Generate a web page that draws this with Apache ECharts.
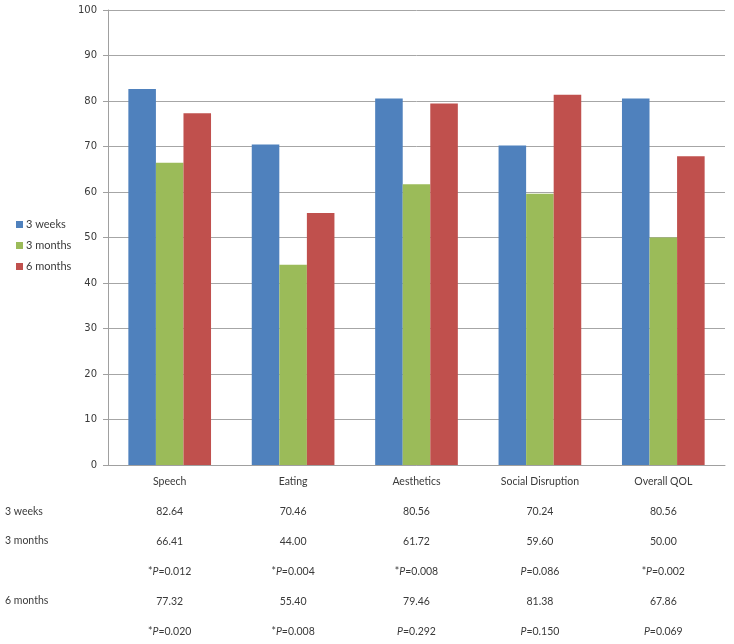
<!DOCTYPE html>
<html>
<head>
<meta charset="utf-8">
<script src="https://cdn.jsdelivr.net/npm/echarts@6/dist/echarts.min.js"></script>
<style>html,body{margin:0;padding:0;background:#fff;}#c{width:734px;height:644px;}</style>
</head>
<body>
<div id="c"></div>
<script>
var categories = ['Speech', 'Eating', 'Aesthetics', 'Social Disruption', 'Overall QOL'];
var seriesNames = ['3 weeks', '3 months', '6 months'];
var weeks3 = [82.64, 70.46, 80.56, 70.24, 80.56];
var months3 = [66.41, 44.00, 61.72, 59.60, 50.00];
var months6 = [77.32, 55.40, 79.46, 81.38, 67.86];
var p3months = ['*|0.012', '*|0.004', '*|0.008', '|0.086', '*|0.002'];
var p6months = ['*|0.020', '*|0.008', '|0.292', '|0.150', '|0.069'];
var yTicks = [0, 10, 20, 30, 40, 50, 60, 70, 80, 90, 100];
var colors = ['#4F81BD', '#9BBB59', '#C0504D'];

var FONT = 'Lato';
var TXT = '#3a3a3a';

function pText(s) {
  var parts = s.split('|');
  return '{t|' + parts[0] + '}{pi|P}{t|=' + parts[1] + '}';
}

var chart = echarts.init(document.getElementById('c'), null, {renderer: 'canvas'});
var option = {
  backgroundColor: '#ffffff',
  animation: false,
  color: colors,
  grid: {left: 108, right: 9, top: 10, bottom: 179, containLabel: false},
  legend: {
    orient: 'vertical',
    left: 11,
    top: 214,
    itemWidth: 7,
    itemHeight: 7,
    itemGap: 10,
    icon: 'rect',
    data: seriesNames,
    textStyle: {fontFamily: FONT, fontSize: 11, color: TXT, padding: [0, 0, 0, -2]}
  },
  xAxis: {
    type: 'category',
    data: categories,
    axisLine: {show: true, lineStyle: {color: '#a0a0a0', width: 1}},
    axisTick: {show: false},
    axisLabel: {
      margin: 2,
      interval: 0,
      color: TXT,
      fontFamily: FONT,
      fontSize: 10.5,
      formatter: function (val, idx) {
        return [
          '{t|' + val + '}',
          '{t|' + weeks3[idx].toFixed(2) + '}',
          '{t|' + months3[idx].toFixed(2) + '}',
          pText(p3months[idx]),
          '{t|' + months6[idx].toFixed(2) + '}',
          pText(p6months[idx])
        ].join('\n');
      },
      rich: {
        t: {fontFamily: FONT, fontSize: 10.5, color: TXT, lineHeight: 30},
        pi: {fontFamily: FONT, fontSize: 10.5, color: TXT, fontStyle: 'italic', lineHeight: 30}
      }
    }
  },
  yAxis: {
    type: 'value',
    min: 0,
    max: 100,
    interval: 10,
    axisLine: {show: true, lineStyle: {color: '#a0a0a0', width: 1}},
    axisTick: {show: true, length: 5, lineStyle: {color: '#a0a0a0'}},
    splitLine: {show: true, lineStyle: {color: '#a6a6a6', width: 1}},
    axisLabel: {
      margin: 11,
      color: TXT,
      fontFamily: 'DejaVu Sans',
      fontSize: 10,
      formatter: function (v) { return yTicks.indexOf(v) >= 0 ? String(v) : ''; }
    }
  },
  series: [
    {name: seriesNames[0], type: 'bar', data: weeks3, barGap: '0%', barCategoryGap: '33%'},
    {name: seriesNames[1], type: 'bar', data: months3, barGap: '0%', barCategoryGap: '33%'},
    {name: seriesNames[2], type: 'bar', data: months6, barGap: '0%', barCategoryGap: '33%'}
  ],
  graphic: [
    {type: 'text', left: 5, top: 506, style: {text: seriesNames[0], fontFamily: FONT, fontSize: 10.5, fill: TXT}},
    {type: 'text', left: 5, top: 535, style: {text: seriesNames[1], fontFamily: FONT, fontSize: 10.5, fill: TXT}},
    {type: 'text', left: 5, top: 595, style: {text: seriesNames[2], fontFamily: FONT, fontSize: 10.5, fill: TXT}}
  ]
};
chart.setOption(option);
</script>
</body>
</html>
